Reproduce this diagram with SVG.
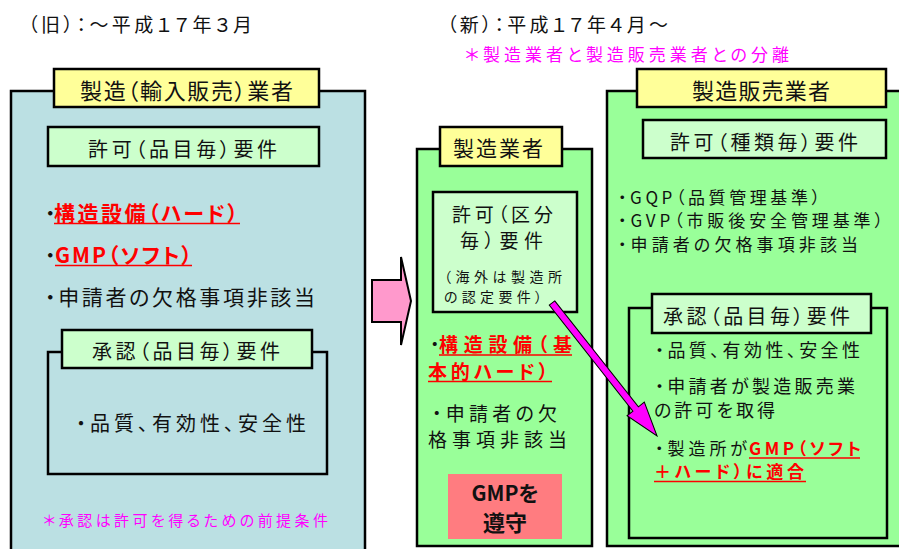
<svg xmlns="http://www.w3.org/2000/svg" width="899" height="549" viewBox="0 0 899 549">
<style>
text{font-family:"Noto Sans CJK JP","Noto Sans",sans-serif;font-feature-settings:"palt";fill:#111;}
.b{font-weight:bold;}
.red{fill:#FF0000;font-weight:bold;}
.mag{fill:#FF00FF;}
.panel{stroke:#000;stroke-width:2.5;}
.ybox{fill:#FFFF99;stroke:#000;stroke-width:2.5;}
.gbox{fill:#CCFFCC;stroke:#000;stroke-width:2.5;}
.brk{fill:none;stroke:#000;stroke-width:2.5;}
.ul{stroke:#FF0000;stroke-width:1.5;}
</style>
<rect width="899" height="549" fill="#FFFFFF"/>

<g id="headers">
<text x="28" y="32" font-size="19" textLength="224" lengthAdjust="spacing">（旧）：～平成１７年３月</text>
<text x="447" y="32" font-size="19" textLength="221" lengthAdjust="spacing">（新）：平成１７年４月～</text>
<text class="mag" x="465" y="61" font-size="17" textLength="324" lengthAdjust="spacing">＊製造業者と製造販売業者との分離</text>
</g>

<g id="old-manufacturer">
<rect class="panel" x="11" y="91" width="354" height="480" fill="#BBE0E3"/>
<rect class="ybox" x="54" y="69" width="265" height="38"/>
<text x="80" y="99" font-size="22" textLength="213" lengthAdjust="spacing">製造（輸入販売）業者</text>
<rect class="gbox" x="48" y="127" width="271" height="39"/>
<text x="88" y="157" font-size="20" textLength="189" lengthAdjust="spacing">許可（品目毎）要件</text>
<text x="45" y="221" font-size="21">・</text>
<text class="red" x="54" y="221" font-size="21" textLength="184" lengthAdjust="spacing">構造設備（ハード）</text>
<line class="ul" x1="54" y1="223.5" x2="240" y2="223.5"/>
<text x="45" y="263" font-size="21">・</text>
<text class="red" x="55" y="263" font-size="21" textLength="137" lengthAdjust="spacing">GMP（ソフト）</text>
<line class="ul" x1="55" y1="265.5" x2="192" y2="265.5"/>
<text x="45" y="305" font-size="21" textLength="270" lengthAdjust="spacing">・申請者の欠格事項非該当</text>
<rect class="brk" x="48" y="352" width="279" height="122"/>
<rect class="gbox" x="62" y="330" width="250" height="38"/>
<text x="92" y="359" font-size="20" textLength="188" lengthAdjust="spacing">承認（品目毎）要件</text>
<text x="76" y="431" font-size="20" textLength="230" lengthAdjust="spacing">・品質、有効性、安全性</text>
<text class="mag" x="43" y="526" font-size="15" textLength="285" lengthAdjust="spacing">＊承認は許可を得るための前提条件</text>
</g>

<g id="transition-arrow">
<polygon points="372,280 401,280 401,257 411,301 401,345 401,322 372,322" fill="#FF99CC" stroke="#000" stroke-width="2"/>
</g>

<g id="manufacturer">
<rect class="panel" x="417" y="149" width="175" height="397" fill="#99FF99"/>
<rect class="ybox" x="440" y="127" width="122" height="39"/>
<text x="453" y="156" font-size="21" textLength="90" lengthAdjust="spacing">製造業者</text>
<rect class="gbox" x="433" y="192" width="144" height="120"/>
<text x="452" y="222" font-size="19" textLength="101" lengthAdjust="spacing">許可（区分</text>
<text x="460" y="248" font-size="19" textLength="83" lengthAdjust="spacing">毎）要件</text>
<text x="444" y="282" font-size="14" textLength="118" lengthAdjust="spacing">（海外は製造所</text>
<text x="444" y="302" font-size="14" textLength="98" lengthAdjust="spacing">の認定要件）</text>
<text x="430" y="352" font-size="19">・</text>
<text class="red" x="439" y="352" font-size="19" textLength="133" lengthAdjust="spacing">構造設備（基</text>
<line class="ul" x1="439" y1="355" x2="572" y2="355"/>
<text class="red" x="428" y="379" font-size="19" textLength="120" lengthAdjust="spacing">本的ハード）</text>
<line class="ul" x1="428" y1="381.5" x2="552" y2="381.5"/>
<text x="432" y="421" font-size="19" textLength="125" lengthAdjust="spacing">・申請者の欠</text>
<text x="428" y="447" font-size="19" textLength="139" lengthAdjust="spacing">格事項非該当</text>
<rect x="448" y="474" width="114" height="65" fill="#FF7C80"/>
<text class="b" x="505" y="501" font-size="21" text-anchor="middle">GMPを</text>
<text class="b" x="505" y="531" font-size="22" text-anchor="middle">遵守</text>
</g>

<g id="marketing-authorization-holder">
<rect class="panel" x="607" y="91" width="300" height="455" fill="#99FF99"/>
<rect class="ybox" x="637" y="69" width="249" height="38"/>
<text x="692" y="99" font-size="22" textLength="138" lengthAdjust="spacing">製造販売業者</text>
<rect class="gbox" x="643" y="120" width="243" height="38"/>
<text x="670" y="150" font-size="20" textLength="188" lengthAdjust="spacing">許可（種類毎）要件</text>
<text x="618" y="204" font-size="17" textLength="202" lengthAdjust="spacing">・GQP（品質管理基準）</text>
<text x="618" y="227" font-size="17" textLength="265" lengthAdjust="spacing">・GVP（市販後安全管理基準）</text>
<text x="618" y="251" font-size="17" textLength="240" lengthAdjust="spacing">・申請者の欠格事項非該当</text>
<rect class="brk" x="629" y="308" width="258" height="230"/>
<rect class="gbox" x="652" y="294" width="219" height="39"/>
<text x="663" y="324" font-size="20" textLength="187" lengthAdjust="spacing">承認（品目毎）要件</text>
<text x="655" y="357" font-size="18" textLength="205" lengthAdjust="spacing">・品質、有効性、安全性</text>
<text x="655" y="393" font-size="18" textLength="200" lengthAdjust="spacing">・申請者が製造販売業</text>
<text x="654" y="417" font-size="18" textLength="121" lengthAdjust="spacing">の許可を取得</text>
<text x="655" y="455" font-size="17" textLength="92" lengthAdjust="spacing">・製造所が</text>
<text class="red" x="749" y="455" font-size="17" textLength="112" lengthAdjust="spacing">GMP（ソフト</text>
<line class="ul" x1="749" y1="458" x2="860" y2="458"/>
<text class="red" x="654" y="478" font-size="17" textLength="150" lengthAdjust="spacing">＋ハード）に適合</text>
<line class="ul" x1="654" y1="481.5" x2="806" y2="481.5"/>
</g>

<g id="connectors">
<polygon transform="translate(552,303) rotate(51.7)" points="0,-3.5 135,-3.5 135,-11 169.5,0 135,11 135,3.5 0,3.5" fill="#FF00FF" stroke="#000" stroke-width="1"/>
</g>
</svg>
